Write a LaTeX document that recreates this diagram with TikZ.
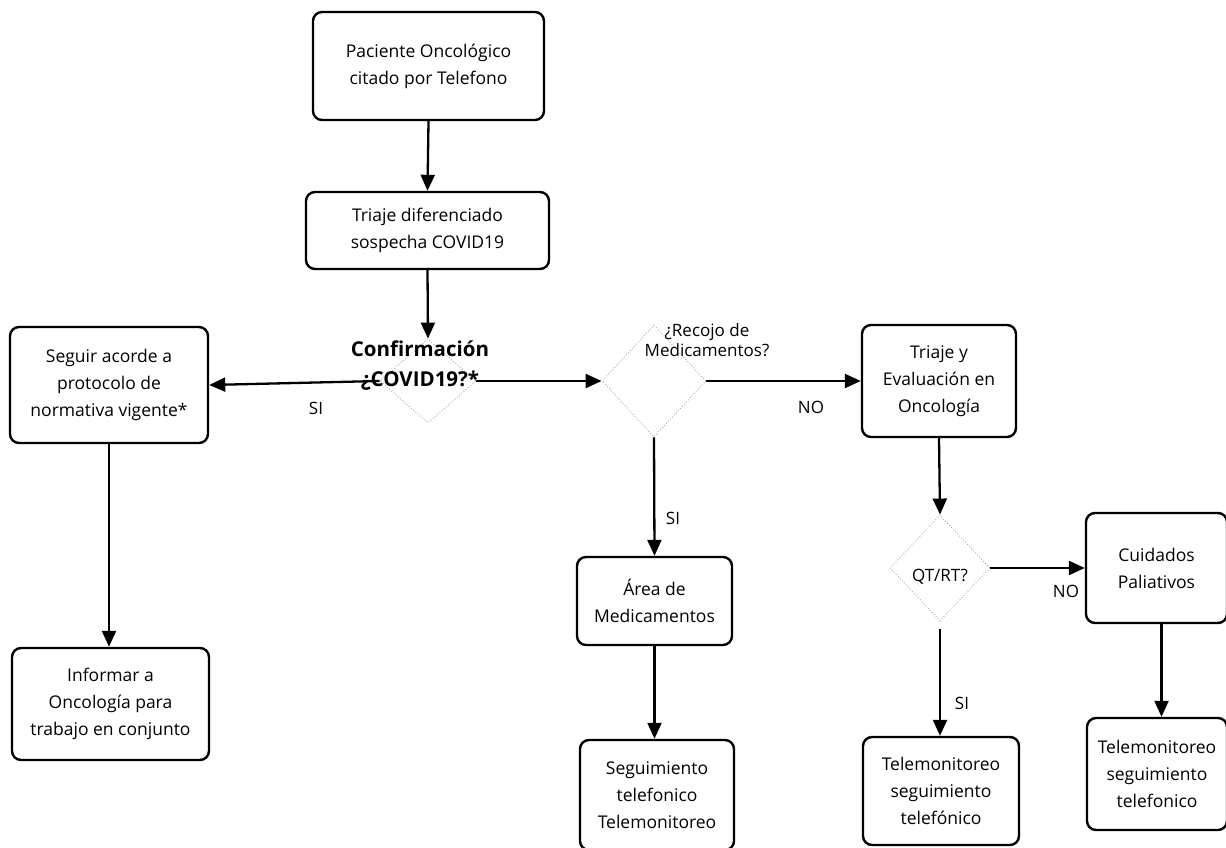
\documentclass[tikz,border=0pt]{standalone}
\usepackage{fontspec}
\setmainfont{Open Sans}
\usetikzlibrary{arrows.meta,shapes.geometric}
\begin{document}
\begin{tikzpicture}[x=1pt,y=-1pt,
  box/.style={draw=black,line width=2.4pt,rounded corners=9pt,align=center,
    font=\fontsize{17.5}{27}\selectfont,inner sep=0pt},
  dia/.style={draw=gray!70,dotted,line width=0.9pt,shape=diamond,inner sep=0pt},
  lbl/.style={font=\fontsize{17}{27}\selectfont,align=center,inner sep=0pt},
  arr/.style={line width=2.3pt,-{Triangle[length=16pt,width=14pt]}},
]
\useasboundingbox (0,0) rectangle (1226,848);
% boxes
\node[box,minimum width=231pt,minimum height=108pt] (b1) at (428.5,66) {Paciente Oncológico\\citado por Telefono};
\node[box,minimum width=243pt,minimum height=77pt] (b2) at (427.5,230.5) {Triaje diferenciado\\sospecha COVID19};
\node[box,minimum width=198pt,minimum height=116pt] (seg) at (109,385) {Seguir acorde a\\protocolo de\\normativa vigente*};
\node[box,minimum width=197pt,minimum height=112pt] (inf) at (110.5,704) {Informar a\\Oncología para\\trabajo en conjunto};
\node[box,minimum width=154pt,minimum height=112pt] (tri) at (939,381) {Triaje y\\Evaluación en\\Oncología};
\node[box,minimum width=155pt,minimum height=88pt] (area) at (654.5,601) {Área de\\Medicamentos};
\node[box,minimum width=154pt,minimum height=110pt] (segt) at (657,795) {Seguimiento\\telefonico\\Telemonitoreo};
\node[box,minimum width=141pt,minimum height=110pt] (cui) at (1156.5,568) {Cuidados\\Paliativos};
\node[box,minimum width=140pt,minimum height=112pt] (tel2) at (1157,774) {Telemonitoreo\\seguimiento\\telefonico};
\node[box,minimum width=156pt,minimum height=108pt] (tel1) at (941,791) {Telemonitoreo\\seguimiento\\telefónico};
% diamonds
\node[dia,minimum width=96pt,minimum height=84pt] (d1) at (428,381) {};
\node[dia,minimum width=104pt,minimum height=112pt] (d2) at (654,381) {};
\node[dia,minimum width=100pt,minimum height=106pt] (d3) at (940,568) {};
% diamond texts
\node[lbl,font=\bfseries\fontsize{20.5}{30}\selectfont] (t1) at (420,366) {Confirmación\\¿COVID19?*};
\node[lbl,font=\fontsize{17}{20}\selectfont] (t2) at (707,340) {¿Recojo de\\Medicamentos?};
\node[lbl] (t3) at (940,577) {QT/RT?};
% connectors
\draw[arr] (b1.south) -- (b2.north);
\draw[arr] (b2.south) -- (d1.north);
\draw[arr] (d1.west) -- (seg.east);
\draw[arr] (d1.east) -- (d2.west);
\draw[arr] (seg.south) -- (seg.south |- inf.north);
\draw[arr] (d2.east) -- (tri.west);
\draw[arr] (d2.south) -- (area.north);
\draw[arr] (area.south) -- (area.south |- segt.north);
\draw[arr] (tri.south) -- (d3.north);
\draw[arr] (d3.east) -- (cui.west);
\draw[arr,shorten <=8pt] (d3.south) -- (d3.south |- tel1.north);
\draw[arr] ([xshift=5pt]cui.south) -- ([xshift=5pt]cui.south |- tel2.north);
% edge labels
\node[lbl] (l1) at (316,408) {SI};
\node[lbl] (l2) at (811,407) {NO};
\node[lbl] (l3) at (673,518) {SI};
\node[lbl] (l4) at (1066,591) {NO};
\node[lbl] (l5) at (962,703) {SI};
\end{tikzpicture}
\end{document}
